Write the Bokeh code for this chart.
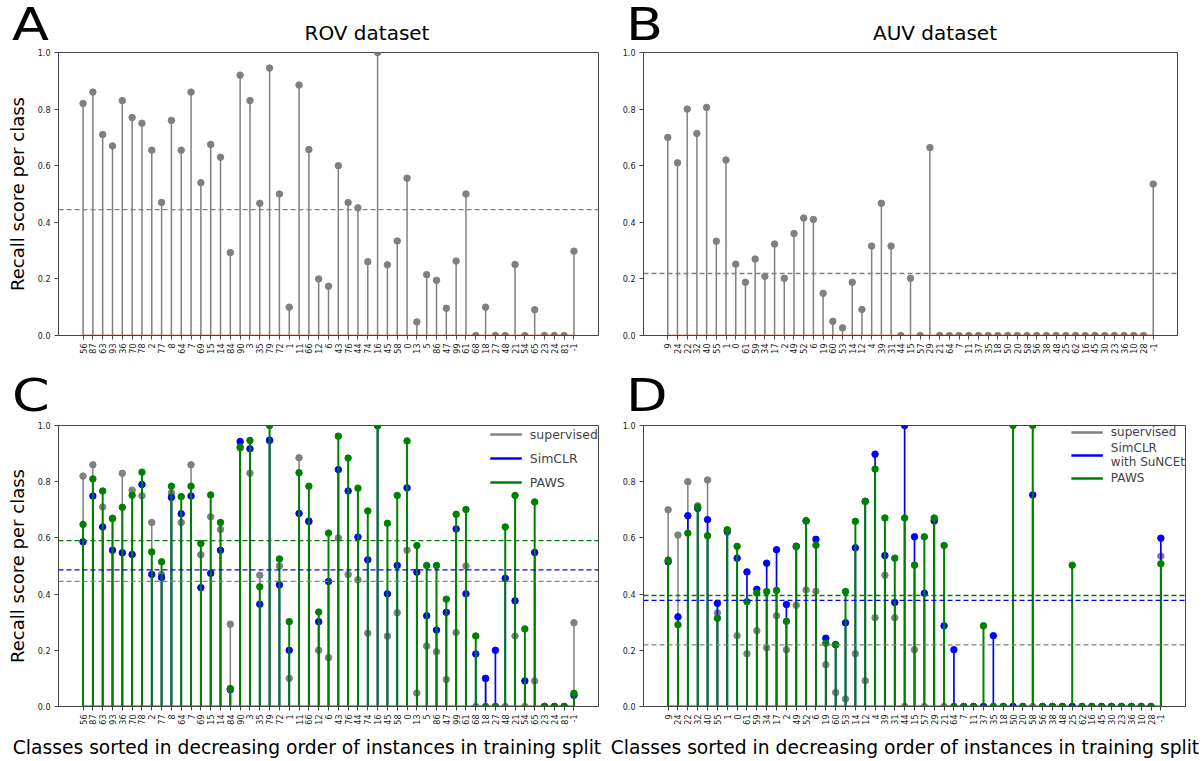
import numpy as np
from bokeh.plotting import figure
from bokeh.layouts import column, row
from bokeh.models import Range1d, FixedTicker, PrintfTickFormatter, Span, Legend, LegendItem, Div
from bokeh.embed import file_html
from bokeh.resources import INLINE

# ---------------- data ----------------
rov_classes = ["56", "87", "63", "93", "36", "70", "78", "2", "77", "8",
               "64", "7", "69", "15", "14", "84", "90", "3", "35", "79",
               "72", "1", "11", "66", "12", "6", "43", "76", "44", "74",
               "16", "45", "58", "0", "13", "5", "86", "47", "99", "61",
               "68", "18", "27", "48", "21", "54", "65", "23", "24", "81", "-1"]
rov_supervised = [0.82, 0.86, 0.71, 0.67, 0.83, 0.77, 0.75, 0.655, 0.47, 0.76,
                  0.655, 0.86, 0.54, 0.675, 0.63, 0.293, 0.92, 0.83, 0.467, 0.945,
                  0.50, 0.10, 0.885, 0.657, 0.20, 0.174, 0.60, 0.47, 0.451, 0.261,
                  1.0, 0.25, 0.334, 0.556, 0.048, 0.215, 0.195, 0.096, 0.263, 0.50,
                  0.0, 0.10, 0.0, 0.0, 0.251, 0.0, 0.091, 0.0, 0.0, 0.0, 0.298]
rov_simclr = [0.586, 0.749, 0.639, 0.556, 0.547, 0.541, 0.79, 0.47, 0.459, 0.744,
              0.686, 0.749, 0.423, 0.474, 0.556, 0.06, 0.943, 0.917, 0.364, 0.948,
              0.433, 0.20, 0.687, 0.66, 0.302, 0.445, 0.843, 0.767, 0.603, 0.522,
              1.0, 0.401, 0.502, 0.778, 0.478, 0.323, 0.272, 0.335, 0.632, 0.401,
              0.187, 0.10, 0.20, 0.456, 0.376, 0.091, 0.548, 0.0, 0.0, 0.0, 0.04]
rov_paws = [0.648, 0.81, 0.767, 0.669, 0.709, 0.752, 0.834, 0.55, 0.515, 0.784,
            0.747, 0.784, 0.58, 0.753, 0.655, 0.064, 0.923, 0.947, 0.426, 1.0,
            0.525, 0.302, 0.832, 0.784, 0.336, 0.617, 0.962, 0.884, 0.777, 0.696,
            1.0, 0.652, 0.751, 0.945, 0.573, 0.502, 0.502, 0.382, 0.684, 0.701,
            0.251, 0.0, 0.0, 0.639, 0.751, 0.276, 0.728, 0.0, 0.0, 0.0, 0.047]
rov_means = [0.445, 0.486, 0.59]          # supervised, SimCLR, PAWS

auv_classes = ["9", "24", "22", "32", "40", "55", "1", "0", "61", "59",
               "34", "17", "2", "49", "52", "6", "19", "60", "53", "14",
               "12", "4", "39", "31", "44", "15", "57", "29", "21", "64",
               "7", "11", "37", "35", "18", "50", "20", "58", "56", "38",
               "48", "25", "62", "16", "45", "30", "23", "36", "10", "28", "-1"]
auv_supervised = [0.70, 0.61, 0.80, 0.714, 0.806, 0.333, 0.62, 0.252, 0.188, 0.27,
                  0.209, 0.323, 0.202, 0.36, 0.415, 0.41, 0.149, 0.05, 0.027, 0.188,
                  0.092, 0.316, 0.467, 0.316, 0.0, 0.202, 0.0, 0.664, 0.0, 0.0,
                  0.0, 0.0, 0.0, 0.0, 0.0, 0.0, 0.0, 0.0, 0.0, 0.0,
                  0.0, 0.0, 0.0, 0.0, 0.0, 0.0, 0.0, 0.0, 0.0, 0.0, 0.535]
auv_simclr = [0.515, 0.319, 0.679, 0.705, 0.665, 0.367, 0.625, 0.528, 0.479, 0.417,
              0.51, 0.558, 0.363, 0.57, 0.66, 0.595, 0.243, 0.22, 0.298, 0.565,
              0.73, 0.898, 0.537, 0.37, 1.0, 0.604, 0.403, 0.66, 0.287, 0.202,
              0.0, 0.0, 0.0, 0.252, 0.0, 0.0, 0.0, 0.753, 0.0, 0.0,
              0.0, 0.0, 0.0, 0.0, 0.0, 0.0, 0.0, 0.0, 0.0, 0.0, 0.599]
auv_paws = [0.521, 0.291, 0.617, 0.71, 0.608, 0.314, 0.629, 0.57, 0.373, 0.404,
            0.409, 0.413, 0.303, 0.57, 0.661, 0.574, 0.225, 0.22, 0.409, 0.659,
            0.73, 0.845, 0.671, 0.528, 0.671, 0.503, 0.604, 0.671, 0.573, 0.0,
            0.0, 0.0, 0.287, 0.0, 0.0, 1.0, 0.0, 1.0, 0.0, 0.0,
            0.0, 0.503, 0.0, 0.0, 0.0, 0.0, 0.0, 0.0, 0.0, 0.0, 0.508]
auv_means = [0.219, 0.378, 0.395]

# ---------------- style ----------------
FONT = "DejaVu Sans"
GRAY = "#808080"
BLUE = "#0000ff"
GREEN = "#008000"
RED = "#c0392b"
SPINE = "#444444"
STEM_W = [1.5, 1.7, 2.0]
YLABEL = "Recall score per class"
XLABEL = "Classes sorted in decreasing order of instances in training split"


def make_panel(classes, series, means, fw, fh, bl, br, bt, bb, ylabel=None):
    n = len(classes)
    xs = list(range(n))
    p = figure(frame_width=fw, frame_height=fh,
               min_border_left=bl, min_border_right=br,
               min_border_top=bt, min_border_bottom=bb,
               x_range=Range1d(xs[0] - 2.5, xs[-1] + 2.5),
               y_range=Range1d(0, 1),
               output_backend="svg", toolbar_location=None, tools="")
    p.grid.visible = False
    p.outline_line_color = SPINE
    p.outline_line_width = 1
    p.background_fill_color = "white"
    p.border_fill_color = "white"

    for ax in (p.xaxis[0], p.yaxis[0]):
        ax.axis_line_color = SPINE
        ax.major_tick_line_color = SPINE
        ax.major_tick_out = 4
        ax.major_tick_in = 0
        ax.minor_tick_line_color = None
        ax.major_label_text_font = FONT
        ax.major_label_text_font_size = "8px"
        ax.major_label_text_color = "#222222"
        ax.major_label_standoff = 4

    p.xaxis.ticker = FixedTicker(ticks=xs)
    p.xaxis.major_label_overrides = {i: c for i, c in enumerate(classes)}
    p.xaxis.major_label_orientation = np.pi / 2
    p.yaxis.ticker = FixedTicker(ticks=[0.0, 0.2, 0.4, 0.6, 0.8, 1.0])
    p.yaxis.formatter = PrintfTickFormatter(format="%.1f")
    if ylabel:
        p.yaxis.axis_label = ylabel
        p.yaxis.axis_label_text_font = FONT
        p.yaxis.axis_label_text_font_size = "18px"
        p.yaxis.axis_label_text_font_style = "normal"
        p.yaxis.axis_label_text_color = "black"
        p.yaxis.axis_label_standoff = 7

    for k, ((vals, color), m) in enumerate(zip(series, means)):
        p.segment(x0=xs, y0=[0] * n, x1=xs, y1=vals, line_color=color, line_width=STEM_W[k])
        p.scatter(xs, vals, size=6.5, fill_color=color, line_color=color)
        p.segment(x0=[xs[0]], y0=[0], x1=[xs[-1]], y1=[0], line_color=RED, line_width=1.5)
        p.add_layout(Span(location=m, dimension="width", line_color=color,
                          line_dash="5 3", line_width=1.3))
    return p


def add_legend(p, labels, series, font_size, glyph_h, spacing):
    items = []
    for lab, (vals, col) in zip(labels, series):
        # single-point line: draws nothing in the plot, only gives the legend its glyph
        r = p.line(x=[0], y=[vals[0]], line_color=col, line_width=2.5)
        items.append(LegendItem(label=lab, renderers=[r]))
    lg = Legend(items=items, location="top_right",
                border_line_alpha=0, background_fill_alpha=0,
                label_text_font=FONT, label_text_font_size=font_size,
                label_text_line_height=1.15,
                glyph_width=32, glyph_height=glyph_h, label_standoff=8,
                spacing=spacing, padding=0, margin=0)
    p.add_layout(lg)


def txt(text, left, top, size, center=False, stretch=None):
    tr = ""
    if center:
        tr = "transform:translateX(-50%);"
    elif stretch:
        tr = f"transform:scaleX({stretch});transform-origin:left top;"
    return (f'<span style="position:absolute;left:{left}px;top:{top}px;'
            f"font-family:'DejaVu Sans',sans-serif;font-size:{size}px;line-height:1;"
            f'white-space:nowrap;color:#000;display:inline-block;{tr}">{text}</span>')


def band(width, height, parts):
    html = (f'<div style="position:relative;width:{width}px;height:{height}px;">'
            + "".join(parts) + "</div>")
    return Div(text=html, width=width, height=height, margin=0)


# ---------------- panels ----------------
pA = make_panel(rov_classes, [(rov_supervised, GRAY)], rov_means[:1],
                fw=540, fh=283, bl=58, br=8, bt=6, bb=30, ylabel=YLABEL)
pB = make_panel(auv_classes, [(auv_supervised, GRAY)], auv_means[:1],
                fw=534, fh=283, bl=37, br=23, bt=6, bb=30)
rov_series = [(rov_supervised, GRAY), (rov_simclr, BLUE), (rov_paws, GREEN)]
auv_series = [(auv_supervised, GRAY), (auv_simclr, BLUE), (auv_paws, GREEN)]
pC = make_panel(rov_classes, rov_series, rov_means,
                fw=540, fh=281, bl=58, br=8, bt=7, bb=30, ylabel=YLABEL)
pD = make_panel(auv_classes, auv_series, auv_means,
                fw=542, fh=281, bl=37, br=15, bt=7, bb=30)

add_legend(pC, ["supervised", "SimCLR", "PAWS"], rov_series, "12.5px", 18, 6)
add_legend(pD, ["supervised", "SimCLR\nwith SuNCEt", "PAWS"], auv_series, "12px", 12, 2)

top_band = band(1200, 46, [txt("A", 12, 2, 45, stretch=1.2),
                           txt("ROV dataset", 367, 23, 20, True),
                           txt("B", 626, 2, 45, stretch=1.2),
                           txt("AUV dataset", 935, 23, 20, True)])
mid_band = band(1200, 53, [txt("C", 12, 8, 45, stretch=1.2),
                           txt("D", 626, 8, 45, stretch=1.2)])
bot_band = band(1200, 24, [txt(XLABEL, 307, 3, 18.7, True),
                           txt(XLABEL, 905, 3, 18.7, True)])

layout = column(top_band, row(pA, pB), mid_band, row(pC, pD), bot_band)
open("out.html", "w").write(file_html(layout, INLINE))
